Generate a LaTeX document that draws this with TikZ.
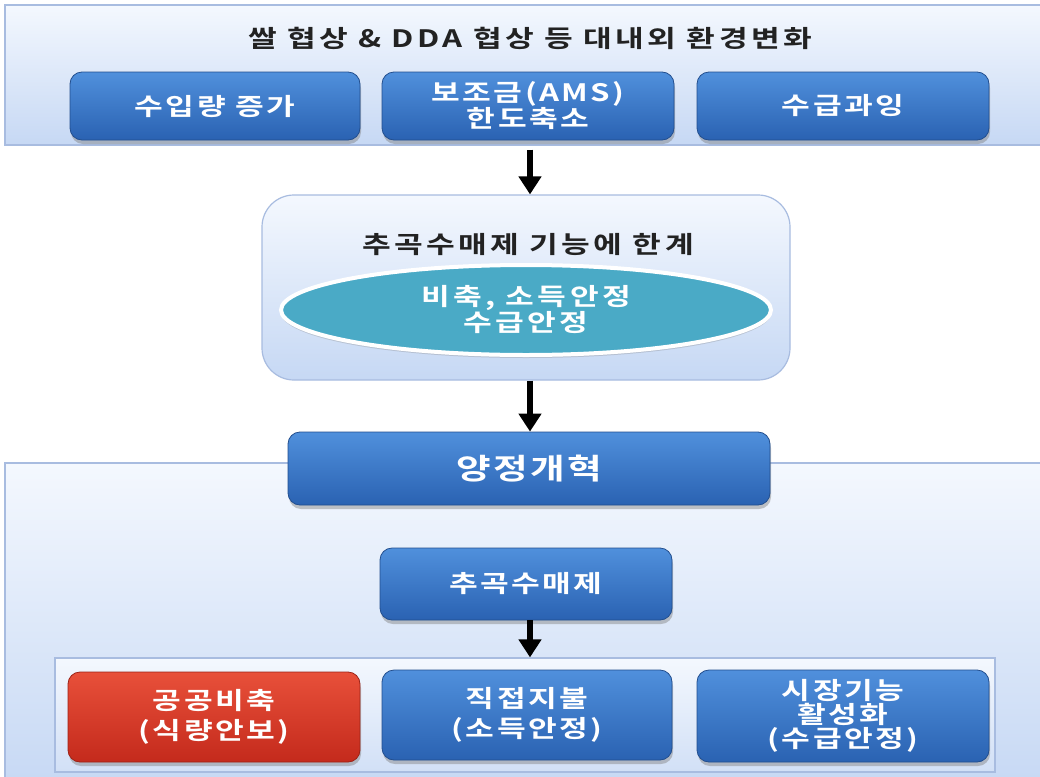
\documentclass[tikz,border=0pt]{standalone}
\usepackage{fontspec}
\newfontfamily\kr{Noto Sans CJK KR Bold}[FakeStretch=1.3]
\usetikzlibrary{shadows,arrows.meta,shapes.geometric}
\definecolor{boxtop}{HTML}{5090DC}
\definecolor{boxbot}{HTML}{2A62B2}
\definecolor{redtop}{HTML}{E8503A}
\definecolor{redbot}{HTML}{C42A1C}
\definecolor{paneltop}{HTML}{F4F8FE}
\definecolor{panelbot}{HTML}{C6D8F4}
\definecolor{panelline}{HTML}{A8BCE0}
\definecolor{teal}{HTML}{4AAAC6}
\definecolor{titletext}{HTML}{222222}
\tikzset{
  panel/.style={draw=panelline, line width=0.6pt, top color=paneltop, bottom color=panelbot},
  bluebox/.style={rounded corners=6pt, top color=boxtop, bottom color=boxbot, draw=boxbot!80!black, line width=0.4pt,
    text=white, font=\kr\fontsize{12}{14}\selectfont\addfontfeature{LetterSpace=10}, align=center, inner sep=0pt,
    drop shadow={opacity=0.45, shadow xshift=0.5pt, shadow yshift=-2pt}},
  redbox/.style={bluebox, top color=redtop, bottom color=redbot, draw=redbot!80!black},
  titlelbl/.style={text=titletext, font=\kr\fontsize{12}{14}\selectfont\addfontfeature{LetterSpace=14}},
  flow/.style={-{Triangle[length=9pt,width=11pt]}, line width=3pt, black}
}
\begin{document}
\begin{tikzpicture}[x=0.5pt,y=-0.5pt]
\useasboundingbox (0,0) rectangle (1040,777);
\fill[white] (0,0) rectangle (1040,777);
\coordinate (axis) at (530,0);
% top panel
\node[panel, minimum width=522.5pt, minimum height=70pt, inner sep=0pt] (top) at (527.5,75) {};
\node[titlelbl] (toptitle) at (530,38) {쌀 협상 \& DDA 협상 등 대내외 환경변화};
\node[bluebox, minimum width=145pt, minimum height=34pt] (b1) at (215,106) {수입량 증가};
\node[bluebox, minimum width=146pt, minimum height=34pt] (b2) at (528,106) {보조금(AMS)\\[-1pt]한도축소};
\node[bluebox, minimum width=146pt, minimum height=34pt] (b3) at (843,106) {수급과잉};
% middle panel
\node[panel, rounded corners=16pt, minimum width=264pt, minimum height=92.5pt, inner sep=0pt] (mid) at (526,287.5) {};
\node[titlelbl] (midtitle) at (528,245) {추곡수매제 기능에 한계};
\node[ellipse, draw=white, line width=2pt, fill=teal, minimum width=245pt, minimum height=45pt, inner sep=0pt,
  text=white, font=\kr\fontsize{12}{14}\selectfont\addfontfeature{LetterSpace=14}, align=center,
  drop shadow={opacity=0.3, shadow xshift=0pt, shadow yshift=-1.5pt}] (ell) at (526,310) {비축, 소득안정\\[-1pt]수급안정};
% bottom panel
\node[panel, minimum width=522.5pt, minimum height=163.5pt, inner sep=0pt] (bot) at (527.5,626.5) {};
\node[bluebox, minimum width=241pt, minimum height=36.5pt, font=\kr\fontsize{14.5}{16}\selectfont\addfontfeature{LetterSpace=8}] (reform) at (529,468.5) {양정개혁};
\node[bluebox, minimum width=146pt, minimum height=36pt] (grain) at (526,584) {추곡수매제};
\node[draw=panelline, line width=0.6pt, top color=paneltop, bottom color=panelbot!80, minimum width=470pt, minimum height=57pt, inner sep=0pt] (inner) at (525,715) {};
\node[redbox, minimum width=146pt, minimum height=45pt] (c1) at (214,717) {공공비축\\[1pt](식량안보)};
\node[bluebox, minimum width=145pt, minimum height=45pt] (c2) at (527,715) {직접지불\\[1pt](소득안정)};
\node[bluebox, minimum width=146pt, minimum height=46pt] (c3) at (843,716) {시장기능\\[-2pt]활성화\\[-2pt](수급안정)};
% arrows
\draw[flow] ([yshift=-2pt]axis |- top.south) -- (axis |- mid.north);
\draw[flow] (axis |- mid.south) -- (axis |- reform.north);
\draw[flow] (axis |- grain.south) -- (axis |- inner.north);
\end{tikzpicture}
\end{document}
